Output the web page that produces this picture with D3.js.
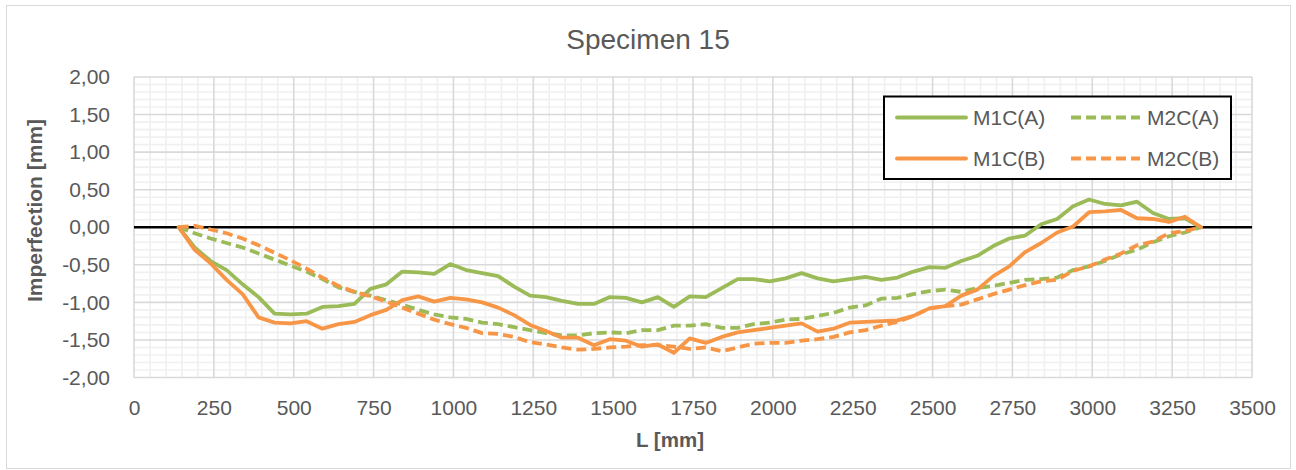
<!DOCTYPE html>
<html><head><meta charset="utf-8">
<script src="https://cdn.jsdelivr.net/npm/d3@7"></script>
<style>body{margin:0;background:#fff}svg{display:block}text{font-family:"Liberation Sans",Arial,sans-serif}</style>
</head><body><svg id="c" width="1296" height="470"></svg>
<script>
const chartTitle = "Specimen 15";
const xTitle = "L [mm]";
const yTitle = "Imperfection [mm]";
const seriesNames = ["M1C(A)", "M2C(A)", "M1C(B)", "M2C(B)"];
const xTicks = [0,250,500,750,1000,1250,1500,1750,2000,2250,2500,2750,3000,3250,3500];
const yTicks = [-2,-1.5,-1,-0.5,0,0.5,1,1.5,2];

const L = [140,190,240,290,340,390,440,490,540,590,640,690,740,790,840,890,940,990,1040,1090,1140,1190,1240,1290,1340,1390,1440,1490,1540,1590,1640,1690,1740,1790,1840,1890,1940,1990,2040,2090,2140,2190,2240,2290,2340,2390,2440,2490,2540,2590,2640,2690,2740,2790,2840,2890,2940,2990,3040,3090,3140,3190,3240,3290,3340];

const m1cA = [0,-0.27,-0.45,-0.57,-0.76,-0.93,-1.15,-1.16,-1.15,-1.06,-1.05,-1.02,-0.82,-0.76,-0.59,-0.60,-0.62,-0.49,-0.57,-0.61,-0.65,-0.79,-0.91,-0.93,-0.98,-1.02,-1.02,-0.93,-0.94,-1.00,-0.93,-1.06,-0.92,-0.93,-0.81,-0.69,-0.69,-0.72,-0.68,-0.61,-0.68,-0.72,-0.69,-0.66,-0.70,-0.67,-0.59,-0.53,-0.54,-0.45,-0.38,-0.25,-0.15,-0.11,0.04,0.11,0.28,0.37,0.31,0.29,0.34,0.19,0.11,0.12,0];

const m2cA = [0,-0.08,-0.15,-0.21,-0.27,-0.35,-0.43,-0.51,-0.59,-0.69,-0.80,-0.86,-0.91,-0.97,-1.03,-1.10,-1.16,-1.20,-1.22,-1.27,-1.29,-1.33,-1.37,-1.41,-1.44,-1.44,-1.41,-1.40,-1.41,-1.37,-1.37,-1.31,-1.31,-1.29,-1.34,-1.34,-1.29,-1.27,-1.23,-1.22,-1.18,-1.14,-1.07,-1.04,-0.95,-0.94,-0.89,-0.85,-0.83,-0.86,-0.81,-0.78,-0.74,-0.70,-0.69,-0.67,-0.57,-0.52,-0.45,-0.36,-0.30,-0.20,-0.12,-0.07,0];

const m1cB = [0,-0.30,-0.48,-0.70,-0.89,-1.20,-1.27,-1.28,-1.25,-1.35,-1.29,-1.26,-1.17,-1.10,-0.97,-0.92,-0.99,-0.94,-0.96,-1.00,-1.07,-1.17,-1.30,-1.38,-1.47,-1.47,-1.57,-1.49,-1.51,-1.59,-1.56,-1.67,-1.48,-1.54,-1.46,-1.40,-1.37,-1.34,-1.31,-1.28,-1.39,-1.35,-1.27,-1.26,-1.25,-1.24,-1.18,-1.08,-1.05,-0.91,-0.83,-0.65,-0.52,-0.33,-0.21,-0.07,0.01,0.20,0.21,0.23,0.12,0.11,0.07,0.14,0];

const m2cB = [0,0.02,-0.03,-0.08,-0.15,-0.24,-0.34,-0.44,-0.55,-0.67,-0.78,-0.86,-0.92,-0.99,-1.07,-1.15,-1.23,-1.29,-1.34,-1.41,-1.42,-1.46,-1.53,-1.56,-1.60,-1.63,-1.62,-1.60,-1.59,-1.57,-1.57,-1.59,-1.62,-1.60,-1.65,-1.60,-1.55,-1.54,-1.54,-1.51,-1.49,-1.46,-1.40,-1.37,-1.31,-1.26,-1.18,-1.08,-1.05,-1.03,-0.96,-0.89,-0.83,-0.77,-0.72,-0.70,-0.58,-0.52,-0.43,-0.35,-0.24,-0.19,-0.08,-0.05,0];

const seriesValues = [m1cA, m2cA, m1cB, m2cB];
const seriesColors = ["#9BBB59", "#9BBB59", "#F79646", "#F79646"];
const seriesDashed = [false, true, false, true];

const svg = d3.select("#c");
const plot = {left:134, right:1252, top:77, bottom:377.5};
const x = d3.scaleLinear().domain([0,3500]).range([plot.left, plot.right]);
const y = d3.scaleLinear().domain([-2,2]).range([plot.bottom, plot.top]);
const loc = d3.formatLocale({decimal:",", thousands:".", grouping:[3], currency:["",""], minus:"-"});
const fy = loc.format(".2f");

// outer border
svg.append("rect").attr("x",6.5).attr("y",5.5).attr("width",1284).attr("height",463)
  .attr("fill","#fff").attr("stroke","#d9d9d9").attr("stroke-width",1);

// minor grid
const g = svg.append("g");
const minorX = d3.range(0, 3501, 50).filter(v => v % 250 !== 0);
const minorY = d3.range(-20, 21, 1).filter(v => v % 5 !== 0).map(v => v/10);
g.selectAll(".mx").data(minorX).join("line")
  .attr("x1", d=>x(d)).attr("x2", d=>x(d)).attr("y1", plot.top).attr("y2", plot.bottom)
  .attr("stroke","#f0f0f0").attr("stroke-width",1.6);
g.selectAll(".my").data(minorY).join("line")
  .attr("x1", plot.left).attr("x2", plot.right).attr("y1", d=>y(d)).attr("y2", d=>y(d))
  .attr("stroke","#f0f0f0").attr("stroke-width",1.6);
// major grid
g.selectAll(".Mx").data(xTicks).join("line")
  .attr("x1", d=>x(d)).attr("x2", d=>x(d)).attr("y1", plot.top).attr("y2", plot.bottom)
  .attr("stroke","#d9d9d9").attr("stroke-width",1.6);
g.selectAll(".My").data(yTicks).join("line")
  .attr("x1", plot.left).attr("x2", plot.right).attr("y1", d=>y(d)).attr("y2", d=>y(d))
  .attr("stroke","#d9d9d9").attr("stroke-width",1.6);

// y axis labels
const ya = svg.append("g").attr("transform",`translate(${plot.left},0)`)
  .call(d3.axisLeft(y).tickValues(yTicks).tickFormat(fy).tickSize(0).tickPadding(24));
ya.select(".domain").remove();
ya.selectAll("text").attr("font-size",21).attr("fill","#595959").attr("font-family","'Liberation Sans',Arial,sans-serif");

// x axis labels (low)
const xa = svg.append("g").attr("transform",`translate(0,${plot.bottom})`)
  .call(d3.axisBottom(x).tickValues(xTicks).tickFormat(d3.format("d")).tickSize(0).tickPadding(23));
xa.select(".domain").remove();
xa.selectAll("text").attr("font-size",21).attr("fill","#595959").attr("font-family","'Liberation Sans',Arial,sans-serif");

// zero axis line
svg.append("line").attr("x1",plot.left).attr("x2",plot.right).attr("y1",y(0)).attr("y2",y(0))
  .attr("stroke","#000").attr("stroke-width",2.5);

// series
const line = d3.line().x((d,i)=>x(L[i])).y(d=>y(d));
seriesValues.forEach((vals,k)=>{
  svg.append("path").datum(vals).attr("d", line).attr("fill","none")
    .attr("stroke", seriesColors[k]).attr("stroke-width",3.8)
    .attr("stroke-linejoin","round")
    .attr("stroke-linecap", seriesDashed[k] ? "butt" : "round")
    .attr("stroke-dasharray", seriesDashed[k] ? "10,5" : null);
});

// title
svg.append("text").attr("x",648).attr("y",48.5).attr("text-anchor","middle")
  .attr("font-size",28).attr("fill","#595959").text(chartTitle);
// x title
svg.append("text").attr("x",670).attr("y",447).attr("text-anchor","middle")
  .attr("font-size",20.5).attr("font-weight","bold").attr("fill","#595959").text(xTitle);
// y title
svg.append("text").attr("transform","translate(41.5,210.5) rotate(-90)").attr("text-anchor","middle")
  .attr("font-size",21).attr("font-weight","bold").attr("fill","#595959").text(yTitle);

// legend
const lg = svg.append("g");
lg.append("rect").attr("x",884).attr("y",96.5).attr("width",347).attr("height",82.5)
  .attr("fill","#fff").attr("stroke","#000").attr("stroke-width",2);
const legPos = [[897,117.5],[1071,117.5],[897,158.5],[1071,158.5]];
seriesNames.forEach((name,k)=>{
  const [lx,ly] = legPos[k];
  lg.append("line").attr("x1",lx).attr("x2",lx+69).attr("y1",ly).attr("y2",ly)
    .attr("stroke",seriesColors[k]).attr("stroke-width",3.8)
    .attr("stroke-linecap", seriesDashed[k] ? "butt" : "round")
    .attr("stroke-dasharray", seriesDashed[k] ? "10,5" : null);
  lg.append("text").attr("x",lx+76).attr("y",ly).attr("dy","0.36em")
    .attr("font-size",21).attr("fill","#595959").text(name);
});
</script></body></html>
